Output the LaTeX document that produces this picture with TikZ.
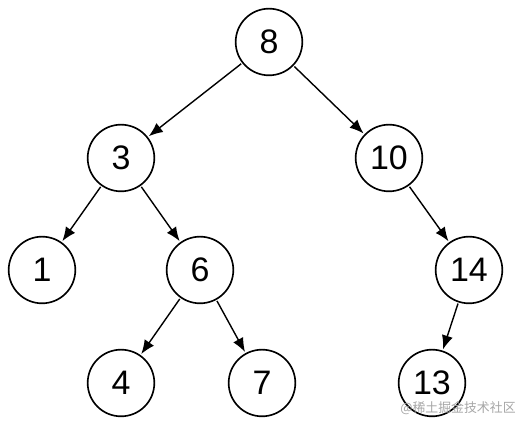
\documentclass[tikz,border=0pt]{standalone}
\usepackage{fontspec}
\setmainfont{Liberation Sans}
\newfontfamily\cjk{Noto Sans CJK SC}
\usetikzlibrary{arrows.meta}
\begin{document}
\begin{tikzpicture}[x=0.03cm, y=-0.03cm, every node/.style={align=center}]
\tikzset{
  key/.style={draw, circle, line width=1.4pt, minimum size=2.0cm, inner sep=0pt, font=\fontsize{29}{30}\selectfont},
  edge/.style={line width=1.2pt, -{Latex[length=0.42cm, width=0.34cm]}, shorten <=1pt, shorten >=1pt}
}
\useasboundingbox (0,0) rectangle (518,428);
\node[key] (n8)  at (269,42)  {8};
\node[key] (n3)  at (121,158) {3};
\node[key] (n10) at (389,158) {10};
\node[key] (n1)  at (42,270)  {1};
\node[key] (n6)  at (200,270) {6};
\node[key] (n14) at (469,270) {14};
\node[key] (n4)  at (121,383) {4};
\node[key] (n7)  at (262,383) {7};
\node[key] (n13) at (432,383) {13};

\draw[edge] (n8) -- (n3);
\draw[edge] (n8) -- (n10);
\draw[edge] (n3) -- (n1);
\draw[edge] (n3) -- (n6);
\draw[edge] (n10) -- (n14);
\draw[edge] (n6) -- (n4);
\draw[edge] (n6) -- (n7);
\draw[edge] (n14) -- (n13);

\node[text=black!35, font=\cjk\fontsize{11}{12}\selectfont] (mark) at (458,408) {@稀土掘金技术社区};
\end{tikzpicture}
\end{document}
